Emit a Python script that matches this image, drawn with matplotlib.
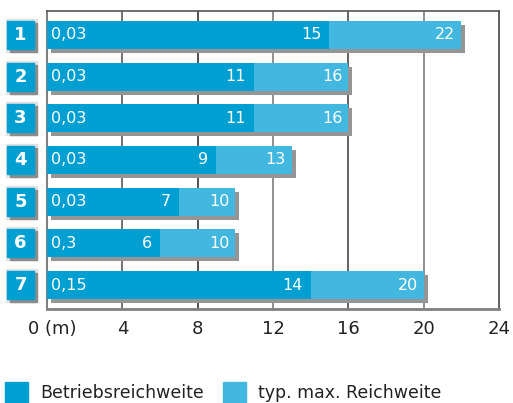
import matplotlib.pyplot as plt
import matplotlib.transforms as mtransforms
from matplotlib.patches import Rectangle
import numpy as np

# data
rows = ["1", "2", "3", "4", "5", "6", "7"]
betrieb = [15, 11, 11, 9, 7, 6, 14]
typmax = [22, 16, 16, 13, 10, 10, 20]
minlabels = ["0,03", "0,03", "0,03", "0,03", "0,03", "0,3", "0,15"]
xticks = [0, 4, 8, 12, 16, 20, 24]
xticklabels = ["0 (m)", "4", "8", "12", "16", "20", "24"]

dark = "#009fd2"
light = "#42b7e0"
shadow = "#959595"

plt.rcParams["font.family"] = ["DejaVu Sans"]

fig = plt.figure(figsize=(5.13, 4.03), dpi=100)
ax = fig.add_axes([47 / 513, 1 - 309 / 403, 452 / 513, 298 / 403])

y = np.arange(len(rows))
h = 0.67
pxx = 24 / 452.0   # data units per pixel, x
pxy = 7.15 / 298.0  # data units per pixel, y

# shadows
ax.barh(y + 4 * pxy, typmax, left=4 * pxx, height=h, color=shadow, zorder=2)
# bars
ax.barh(y, betrieb, height=h, color=dark, zorder=3)
ax.barh(y, np.array(typmax) - np.array(betrieb), left=betrieb, height=h,
        color=light, zorder=3)

for i in range(len(rows)):
    ax.text(4 * pxx, y[i], minlabels[i], color="white", fontsize=11.5,
            va="center", ha="left", zorder=4)
    ax.text(betrieb[i] - 8 * pxx, y[i], str(betrieb[i]), color="white",
            fontsize=11.5, va="center", ha="right", zorder=4)
    ax.text(typmax[i] - 6 * pxx, y[i], str(typmax[i]), color="white",
            fontsize=11.5, va="center", ha="right", zorder=4)

# row number boxes
tr = mtransforms.blended_transform_factory(ax.transAxes, ax.transData)
def px2ax(px):
    return (px - 47) / 452.0
for i, r in enumerate(rows):
    top = y[i] - h / 2
    ax.add_patch(Rectangle((px2ax(5.5), top - 2 * pxy), 31.5 / 452, h + 5 * pxy,
                           transform=tr, color="#e2e2e2", clip_on=False, zorder=1))
    ax.add_patch(Rectangle((px2ax(10), top + 2 * pxy), 27 / 452, h + 1 * pxy,
                           transform=tr, color="#8c8c8c", clip_on=False, zorder=2))
    ax.add_patch(Rectangle((px2ax(7), top), 27 / 452, h,
                           transform=tr, color=dark, clip_on=False, zorder=3))
    ax.text(px2ax(20.5), y[i], r, transform=tr, color="white", fontsize=13,
            fontweight="bold", ha="center", va="center", zorder=4)

ax.set_xlim(0, 24)
ax.set_ylim(6.575, -0.575)
ax.set_yticks([])
ax.set_xticks(xticks)
ax.set_xticklabels(xticklabels, fontsize=13, color="#222222")
ax.tick_params(axis="x", length=0, pad=8)
off = mtransforms.ScaledTranslation(5 / 100, 0, fig.dpi_scale_trans)
ax.get_xticklabels()[0].set_transform(ax.get_xticklabels()[0].get_transform() + off)

gridcols = {4: "#666666", 8: "#444444", 12: "#888888", 16: "#555555", 20: "#888888"}
for x in xticks[1:-1]:
    ax.axvline(x, color=gridcols[x], lw=1.3, zorder=1)
ax.spines["left"].set_color("#808080")
ax.spines["left"].set_linewidth(1.5)
ax.spines["bottom"].set_color("#808080")
ax.spines["bottom"].set_linewidth(2)
ax.spines["top"].set_color("#555555")
ax.spines["top"].set_linewidth(1.2)
ax.spines["right"].set_color("#444444")
ax.spines["right"].set_linewidth(1.2)

# legend
fig.patches.append(Rectangle((5, 0), 23, 21, transform=None, color=dark))
fig.text(40 / 513, 1 - 393 / 403, "Betriebsreichweite", fontsize=12.5,
         color="#222222", va="center", ha="left")
fig.patches.append(Rectangle((223, 0), 23, 21, transform=None, color=light))
fig.text(258 / 513, 1 - 393 / 403, "typ. max. Reichweite", fontsize=12.5,
         color="#222222", va="center", ha="left")

fig.savefig("out.png", dpi=100)
